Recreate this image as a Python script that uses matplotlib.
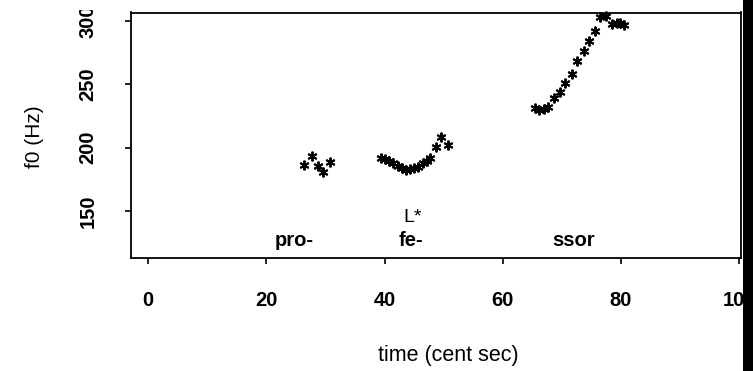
import numpy as np
import matplotlib
matplotlib.use("Agg")
import matplotlib.pyplot as plt
from matplotlib.patches import Rectangle

plt.rcParams['font.family'] = ['Liberation Sans', 'DejaVu Sans']

# pitch track, time in centiseconds, f0 in Hz
t_pro = [26.4, 27.7, 28.8, 29.6, 30.8]
f0_pro = [186.4, 193.5, 185.6, 181.1, 189.0]

t_fe = [39.4, 40.1, 40.8, 41.5, 42.2, 42.9, 43.6, 44.3, 45.0, 45.7,
        46.5, 47.1, 47.7, 48.7, 49.5, 50.8]
f0_fe = [192.1, 190.9, 189.8, 187.7, 185.8, 183.8, 182.4, 183.0, 183.8, 185.0,
         187.7, 189.8, 191.7, 200.8, 208.7, 202.1]

t_ssor = [65.5, 66.2, 66.9, 67.7, 68.6, 69.6, 70.6, 71.7, 72.6, 73.7,
          74.5, 75.6, 76.5, 77.5, 78.5, 79.3, 79.9, 80.5]
f0_ssor = [231.0, 229.7, 230.2, 232.3, 238.9, 244.1, 250.7, 258.0, 268.5, 276.4,
           284.3, 292.1, 303.1, 303.7, 297.4, 298.4, 298.0, 296.6]

syllables = ['pro-', 'fe-', 'ssor']
syl_x = [24.7, 44.5, 71.9]
syl_y = 127.3
accent = 'L*'
accent_x = 44.8
accent_y = 145.4

xticks = [0, 20, 40, 60, 80, 100]
yticks = [150, 200, 250, 300]

fig = plt.figure(figsize=(7.53, 3.71), dpi=100)
ax = fig.add_axes([131 / 753, 1 - 257.7 / 371, (741 - 131) / 753, (257.7 - 12.5) / 371])

t = t_pro + t_fe + t_ssor
f0 = f0_pro + f0_fe + f0_ssor
ax.plot(t, f0, linestyle='none', marker=(6, 2, 0), markersize=7, mew=1.4,
        color='black', clip_on=False)

for s, x in zip(syllables, syl_x):
    ax.text(x, syl_y, s, ha='center', va='center', fontsize=14.5, fontweight='bold')
ax.text(accent_x, accent_y, accent, ha='center', va='center', fontsize=14)

ax.set_xlim(-2.9, 100.3)
ax.set_ylim(113.4, 306.5)
ax.set_xticks(xticks)
ax.set_yticks(yticks)
ax.tick_params(axis='x', direction='out', length=4.3, width=1.2, pad=20, labelsize=14.5)
ax.tick_params(axis='y', direction='out', length=4, width=1.2, pad=20, labelsize=14.5)
for lab in ax.get_xticklabels() + ax.get_yticklabels():
    lab.set_fontweight('bold')
for lab in ax.get_yticklabels():
    lab.set_rotation(90)
    lab.set_va('center')
for sp in ax.spines.values():
    sp.set_linewidth(1.3)

fig.text(448 / 753, 1 - 355 / 371, 'time (cent sec)', ha='center', va='center', fontsize=15.5)
fig.text(35 / 753, 1 - 137 / 371, 'f0 (Hz)', ha='center', va='center', fontsize=15, rotation=90)

# cropped edges of the original picture
fig.patches.append(Rectangle((0, 1 - 10 / 371), 743 / 753, 10 / 371, transform=fig.transFigure,
                             facecolor='white', edgecolor='none', zorder=10))
fig.patches.append(Rectangle((743 / 753, 0), 10 / 753, 1, transform=fig.transFigure,
                             facecolor='black', edgecolor='none', zorder=10))

fig.savefig('out.png', dpi=100)
